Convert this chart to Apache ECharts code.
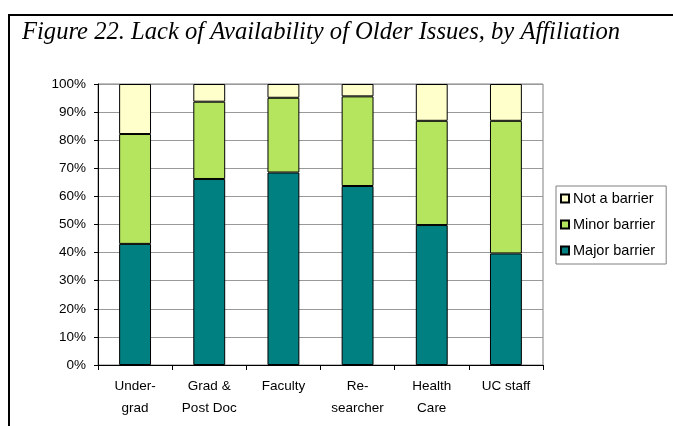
<!DOCTYPE html>
<html><head><meta charset="utf-8">
<script src="https://cdn.jsdelivr.net/npm/echarts@6/dist/echarts.min.js"></script>
<style>html,body{margin:0;padding:0;background:#fff}#c{width:673px;height:426px}</style>
</head><body><div id="c"></div>
<script>
const categories = ['Under-\ngrad', 'Grad &\nPost Doc', 'Faculty', 'Re-\nsearcher', 'Health\nCare', 'UC staff'];
const majorBarrier = [43.1, 66.2, 68.5, 63.7, 49.8, 39.7];
const minorBarrier = [39.1, 27.5, 26.6, 31.9, 37.1, 47.2];
const notBarrier = [17.8, 6.3, 4.9, 4.4, 13.1, 13.1];
const yTicks = [0, 10, 20, 30, 40, 50, 60, 70, 80, 90, 100];

const chart = echarts.init(document.getElementById('c'), null, {renderer: 'canvas'});
const txt = {fontFamily: 'Liberation Sans, Arial, sans-serif', fontSize: 13.5, color: '#000'};
function bar(name, data, color) {
  return {name, type: 'bar', stack: 's', data, barWidth: '43%',
    itemStyle: {color, borderColor: '#000', borderWidth: 1}};
}
chart.setOption({
  animation: false,
  graphic: [
    {type: 'polyline', shape: {points: [[9, 426], [9, 15], [673, 15]]}, style: {stroke: '#000', lineWidth: 2, fill: null}},
    {type: 'text', left: 22, top: 20, style: {text: 'Figure 22. Lack of Availability of Older Issues, by Affiliation',
      font: 'italic 24.6px "Liberation Serif", serif', fill: '#000'}}
  ],
  grid: {left: 98, right: 130, top: 84, bottom: 61, show: true, borderColor: '#808080', borderWidth: 1},
  legend: {
    orient: 'vertical', left: 556, top: 186, data: ['Not a barrier', 'Minor barrier', 'Major barrier'],
    itemWidth: 8, itemHeight: 8, itemGap: 11, borderColor: '#808080', borderWidth: 1,
    padding: [5, 11, 6, 4], textStyle: Object.assign({}, txt, {fontSize: 14.5, padding: [0, 0, 0, -1]}),
    icon: 'rect'
  },
  xAxis: {
    type: 'category', data: categories,
    axisLine: {lineStyle: {color: '#000'}},
    axisTick: {show: true, length: 5, lineStyle: {color: '#000'}},
    axisLabel: Object.assign({}, txt, {margin: 10, lineHeight: 22, interval: 0})
  },
  yAxis: {
    type: 'value', min: 0, max: 100, interval: 10,
    axisLine: {show: true, lineStyle: {color: '#000'}},
    axisTick: {show: true, length: 4, lineStyle: {color: '#000'}},
    splitLine: {lineStyle: {color: '#999'}},
    axisLabel: Object.assign({}, txt, {margin: 12, formatter: v => yTicks.includes(v) ? v + '%' : ''})
  },
  series: [
    bar('Major barrier', majorBarrier, '#008080'),
    bar('Minor barrier', minorBarrier, '#B5E55E'),
    bar('Not a barrier', notBarrier, '#FFFFCC')
  ]
});
</script></body></html>
